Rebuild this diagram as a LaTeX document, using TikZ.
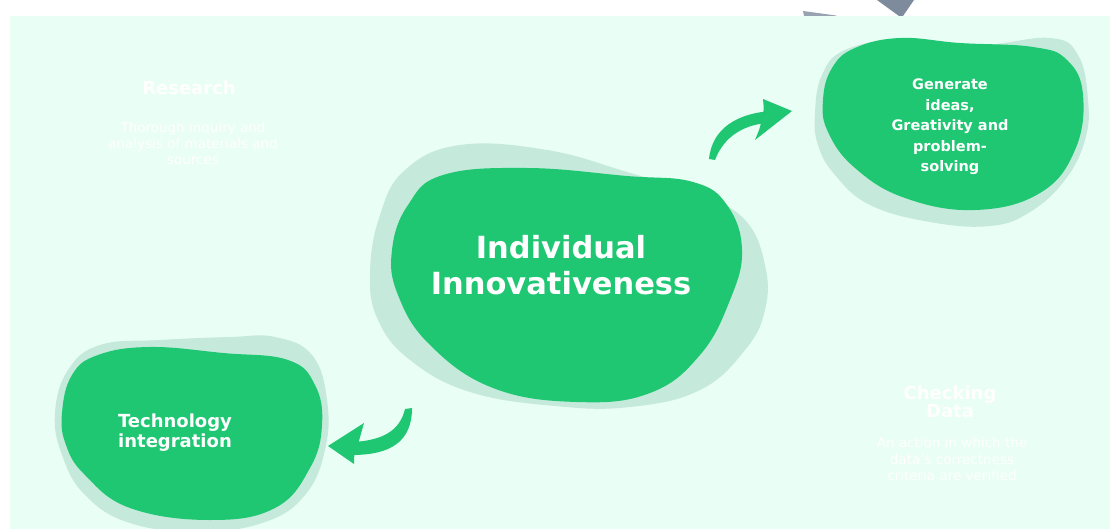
\documentclass[tikz,border=0pt]{standalone}
\usepackage{fontspec}
\setmainfont{DejaVu Sans}
\begin{document}
\definecolor{panel}{HTML}{E9FEF4}
\definecolor{blobgreen}{HTML}{1FC773}
\definecolor{blobshade}{HTML}{C5EADB}
\definecolor{slate}{HTML}{7E8B9C}
\begin{tikzpicture}[x=1pt,y=-1pt,
  shade/.style={fill=blobshade, draw=none},
  blob/.style={fill=blobgreen, draw=none},
  arrowfill/.style={fill=blobgreen, draw=none},
  label/.style={text=white, font=\bfseries, align=center, inner sep=0pt},
  ghost/.style={text=white, align=center, inner sep=0pt}]
\useasboundingbox (0,0) rectangle (1110,529);
\fill[white] (0,0) rectangle (1110,529);
\fill[panel] (10,16) rectangle (1110,529);

% partly hidden grey object above the panel
\fill[slate] (877,0) -- (914,0) -- (903,16) -- (899,16) -- cycle;
\fill[slate!80] (803,11) -- (836,15.5) -- (836,16) -- (804,16) -- cycle;

% central blob
\fill[shade] plot[smooth cycle, tension=0.7] coordinates {
  (370,273) (380,215) (405,170) (460,145) (547,150) (627,172) (700,195)
  (745,220) (765,265) (765,310) (745,350) (700,390) (630,407) (555,406)
  (470,392) (410,360) (378,320)};
\fill[blob] plot[smooth cycle, tension=0.7] coordinates {
  (392,250) (408,205) (443,175) (527,168) (627,176) (693,182) (727,205)
  (742,250) (730,300) (700,355) (650,393) (577,402) (493,388) (430,345)
  (398,295)};

% upper right blob
\fill[shade] plot[smooth cycle, tension=0.7] coordinates {
  (815,113) (822,75) (845,50) (900,40) (980,45) (1050,38) (1078,55)
  (1088,100) (1085,140) (1065,180) (1030,212) (990,226) (930,222)
  (870,205) (835,175) (818,145)};
\fill[blob] plot[smooth cycle, tension=0.7] coordinates {
  (823,100) (832,68) (855,48) (900,38) (960,43) (1033,47) (1067,60)
  (1083,95) (1075,150) (1040,193) (975,210) (905,198) (855,168) (828,132)};

% lower left blob
\fill[shade] plot[smooth cycle, tension=0.7] coordinates {
  (55,413) (68,370) (100,345) (160,340) (230,337) (275,337) (312,355)
  (327,400) (325,450) (305,495) (265,522) (200,532) (130,523) (85,495)
  (62,455)};
\fill[blob] plot[smooth cycle, tension=0.7] coordinates {
  (62,413) (72,375) (98,355) (150,347) (223,353) (288,360) (315,385)
  (322,425) (310,468) (275,508) (210,520) (130,508) (85,475) (66,445)};

% texts
\node[label, font=\bfseries\fontsize{30.5}{36}\selectfont] (core) at (561,265)
  {Individual\\Innovativeness};
\node[label, font=\bfseries\fontsize{14.5}{20.5}\selectfont] (ideas) at (950,127)
  {Generate\\ideas,\\Greativity and\\problem-\\solving};
\node[label, font=\bfseries\fontsize{18}{20}\selectfont] (tech) at (175,433)
  {Technology\\integration};

\node[ghost, font=\bfseries\fontsize{18}{20}\selectfont] (research) at (189,88) {Research};
\node[ghost, font=\fontsize{13.5}{16}\selectfont] (researchtxt) at (193,143)
  {Thorough inquiry and\\analysis of materials and\\sources};
\node[ghost, font=\bfseries\fontsize{18}{18.5}\selectfont] (checking) at (950,402) {Checking\\Data};
\node[ghost, font=\fontsize{13.5}{16.5}\selectfont] (checkingtxt) at (952,459)
  {An action in which the\\data's correctness\\criteria are verified};

% curved brush arrow towards the upper right blob
\coordinate (a1tail) at (709,159);
\coordinate (a1tip) at (792,111);
\fill[arrowfill] (a1tail) .. controls (712,128) and (738,113) .. (772,111)
  -- (769,123) .. controls (745,124) and (724,136) .. (715,160) -- cycle;
\fill[arrowfill] (763,99) -- (a1tip) -- (755,140) .. controls (760,128) .. (762,118)
  .. controls (764,110) .. cycle;

% curved brush arrow towards the lower left blob
\coordinate (a2tail) at (412,408);
\coordinate (a2tip) at (328,446);
\fill[arrowfill] (a2tail) .. controls (412,442) and (390,455) .. (352,455)
  -- (354,442) .. controls (384,440) and (400,430) .. (405,409) -- cycle;
\fill[arrowfill] (364,423) -- (a2tip) -- (354,464) .. controls (354,455) .. (357,448)
  .. controls (360,435) .. cycle;
\end{tikzpicture}
\end{document}
